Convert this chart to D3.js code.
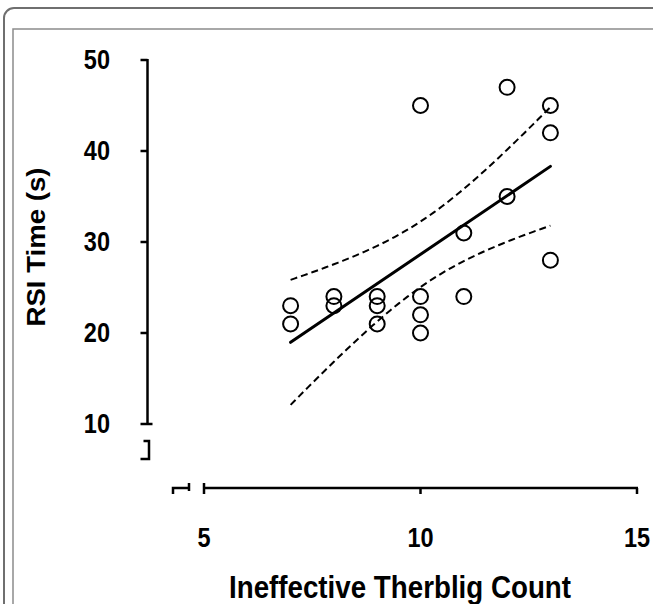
<!DOCTYPE html>
<html>
<head>
<meta charset="utf-8">
<script src="https://cdn.jsdelivr.net/npm/d3@7"></script>
<style>
  body { margin: 0; background: #fff; }
  text { font-family: "Liberation Sans", Arial, sans-serif; font-weight: bold; fill: #000; }
</style>
</head>
<body>
<div id="plot"></div>
<script>
// data
const therbligCount = [7, 7, 8, 8, 9, 9, 9, 10, 10, 10, 10, 11, 11, 12, 12, 13, 13, 13];
const rsiTime       = [23, 21, 24, 23, 24, 23, 21, 45, 24, 22, 20, 31, 24, 47, 35, 45, 42, 28];
const xTicks = [5, 10, 15];
const yTicks = [10, 20, 30, 40, 50];
const tCrit = 2.12; // t(0.975, df = 16)

const width = 653, height = 604;

const x = d3.scaleLinear().domain([5, 15]).range([204, 637]);
const y = d3.scaleLinear().domain([10, 50]).range([424, 60]);

const svg = d3.select("#plot")
    .append("svg")
    .attr("width", width)
    .attr("height", height);

// frame of the figure panel
svg.append("rect")
    .attr("x", 4).attr("y", 8)
    .attr("width", 720).attr("height", 720)
    .attr("rx", 10)
    .attr("fill", "none")
    .attr("stroke", "#6f6f6f")
    .attr("stroke-width", 2);
svg.append("rect")
    .attr("x", 13).attr("y", 29)
    .attr("width", 720).attr("height", 720)
    .attr("fill", "none")
    .attr("stroke", "#8c8c8c")
    .attr("stroke-width", 1.5);

/*******************************/
/*     regression + 95% CI     */
/*******************************/
const n = therbligCount.length;
const xm = d3.mean(therbligCount), ym = d3.mean(rsiTime);
let sxx = 0, sxy = 0, syy = 0;
therbligCount.forEach((v, i) => {
    sxx += (v - xm) ** 2;
    sxy += (v - xm) * (rsiTime[i] - ym);
    syy += (rsiTime[i] - ym) ** 2;
});
const slope = sxy / sxx;
const icpt = ym - slope * xm;
const se = Math.sqrt((syy - slope * sxy) / (n - 2));
const fit = v => icpt + slope * v;
const half = v => tCrit * se * Math.sqrt(1 / n + (v - xm) ** 2 / sxx);

const [xLo, xHi] = d3.extent(therbligCount);
const xs = d3.range(xLo, xHi + 0.001, 0.1);

const line = d3.line().x(d => x(d[0])).y(d => y(d[1]));

svg.append("path")
    .datum(xs.map(v => [v, fit(v) + half(v)]))
    .attr("d", line)
    .attr("fill", "none").attr("stroke", "#000")
    .attr("stroke-width", 2).attr("stroke-dasharray", "7,4");
svg.append("path")
    .datum(xs.map(v => [v, fit(v) - half(v)]))
    .attr("d", line)
    .attr("fill", "none").attr("stroke", "#000")
    .attr("stroke-width", 2).attr("stroke-dasharray", "7,4");
svg.append("path")
    .datum([[xLo, fit(xLo)], [xHi, fit(xHi)]])
    .attr("d", line)
    .attr("fill", "none").attr("stroke", "#000")
    .attr("stroke-width", 3).attr("stroke-linecap", "round");

// points
svg.append("g").selectAll("circle")
    .data(therbligCount.map((v, i) => [v, rsiTime[i]]))
    .join("circle")
    .attr("cx", d => x(d[0]))
    .attr("cy", d => y(d[1]))
    .attr("r", 7.5)
    .attr("fill", "none")
    .attr("stroke", "#000")
    .attr("stroke-width", 2);

/*******************************/
/*            axes             */
/*******************************/
const axisG = svg.append("g")
    .attr("stroke", "#000")
    .attr("stroke-width", 2.5)
    .attr("fill", "none");

// y axis
const ax = 147.5;
axisG.append("line")
    .attr("x1", ax).attr("x2", ax)
    .attr("y1", y(50) - 1).attr("y2", y(10) + 1);
axisG.selectAll(".ytick")
    .data(yTicks)
    .join("line")
    .attr("x1", ax - 7)
    .attr("x2", d => d === 10 ? ax + 5 : ax)
    .attr("y1", d => y(d)).attr("y2", d => y(d));
// broken stub below
const yb1 = y(10) + 17, yb2 = y(10) + 35;
axisG.append("path")
    .attr("d", `M${ax - 4},${yb1}H${ax + 1.5}V${yb2}H${ax - 7}`);

// x axis
const ay = 488;
axisG.append("line")
    .attr("x1", x(5)).attr("x2", x(15) + 1)
    .attr("y1", ay).attr("y2", ay);
axisG.selectAll(".xtick")
    .data(xTicks)
    .join("line")
    .attr("x1", d => x(d)).attr("x2", d => x(d))
    .attr("y1", d => d === 5 ? ay - 5 : ay)
    .attr("y2", ay + 6);
const xb1 = x(5) - 31, xb2 = x(5) - 15;
axisG.append("path")
    .attr("d", `M${xb1},${ay + 6}V${ay}H${xb2}`);
axisG.append("line")
    .attr("x1", xb2).attr("x2", xb2)
    .attr("y1", ay - 5).attr("y2", ay + 3);

// tick labels
svg.append("g").selectAll("text")
    .data(yTicks)
    .join("text")
    .attr("transform", d => `translate(110,${y(d) + 9}) scale(0.84,1)`)
    .attr("text-anchor", "end")
    .attr("font-size", 28)
    .text(d => d);

svg.append("g").selectAll("text")
    .data(xTicks)
    .join("text")
    .attr("transform", d => `translate(${x(d)},547) scale(0.84,1)`)
    .attr("text-anchor", "middle")
    .attr("font-size", 28)
    .text(d => d);

// axis titles
svg.append("text")
    .attr("x", 400).attr("y", 598)
    .attr("text-anchor", "middle")
    .attr("font-size", 32)
    .attr("textLength", 342)
    .attr("lengthAdjust", "spacingAndGlyphs")
    .text("Ineffective Therblig Count");

svg.append("text")
    .attr("transform", "translate(45,247) rotate(-90)")
    .attr("text-anchor", "middle")
    .attr("font-size", 26)
    .attr("textLength", 159)
    .attr("lengthAdjust", "spacingAndGlyphs")
    .text("RSI Time (s)");
</script>
</body>
</html>
